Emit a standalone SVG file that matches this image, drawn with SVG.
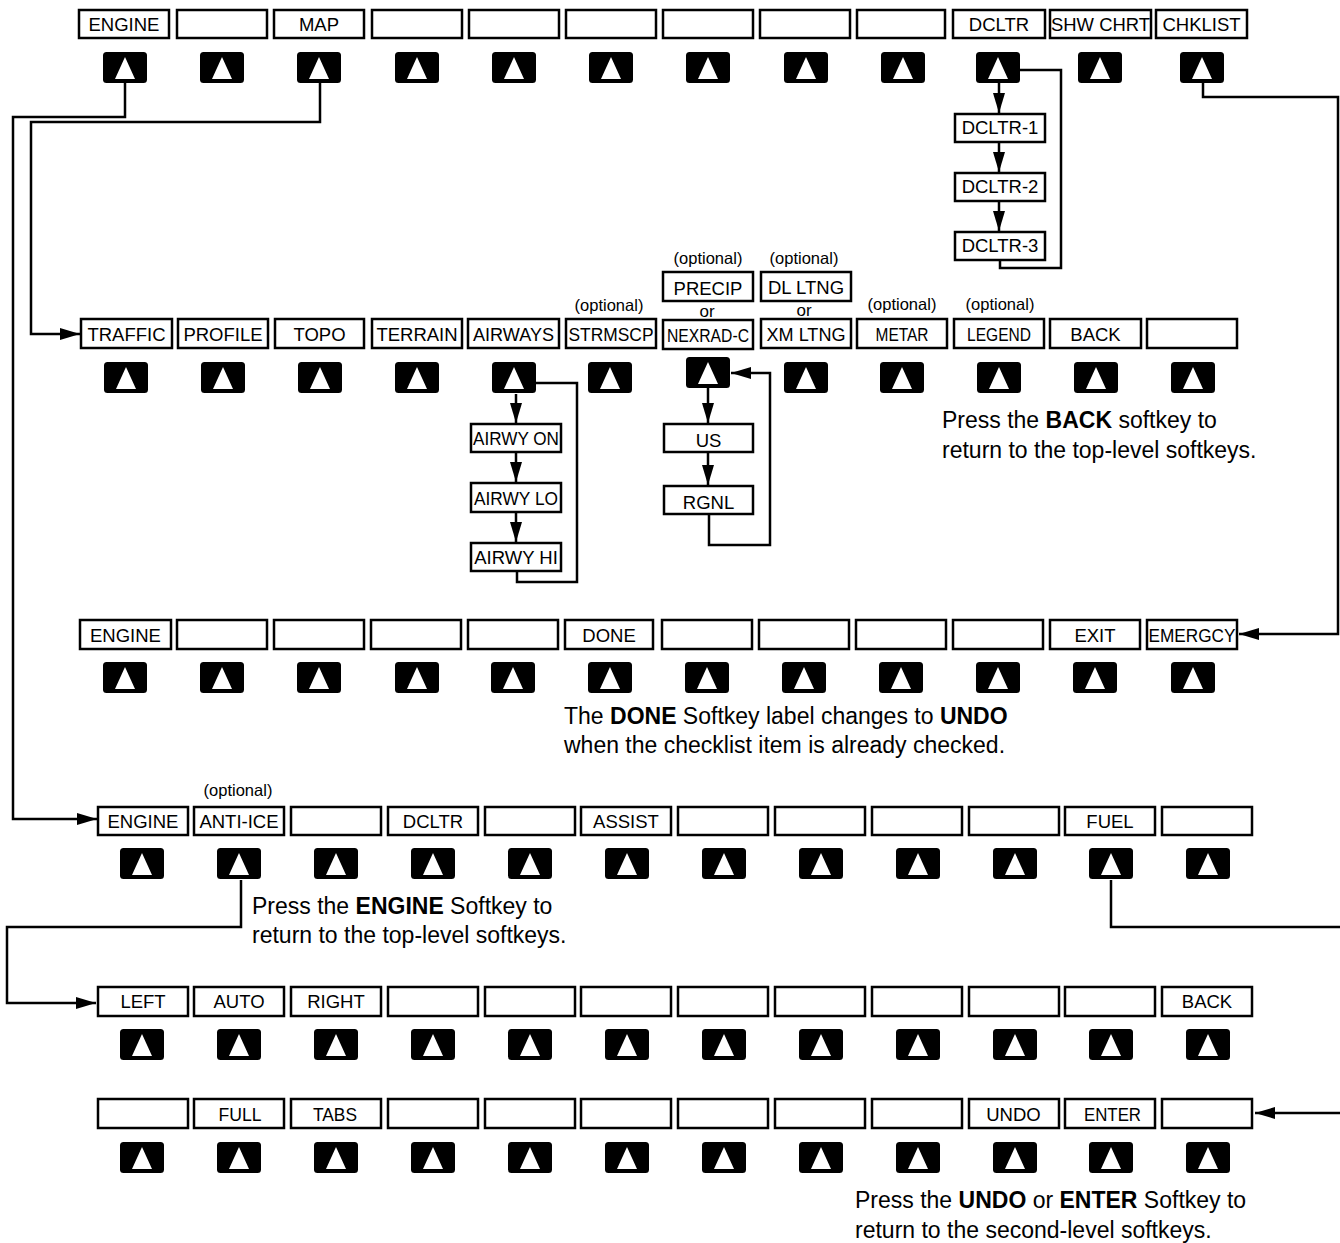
<svg xmlns="http://www.w3.org/2000/svg" xmlns:xlink="http://www.w3.org/1999/xlink" width="1340" height="1243" viewBox="0 0 1340 1243">
<style>
.box{fill:#fff;stroke:#000;stroke-width:2.5}
.lbl{font-family:"Liberation Sans",Arial,Helvetica,sans-serif;font-size:18.5px;text-anchor:middle;fill:#000}
.opt{font-family:"Liberation Sans",Arial,Helvetica,sans-serif;font-size:16.5px;text-anchor:middle;fill:#000}
.or{font-family:"Liberation Sans",Arial,Helvetica,sans-serif;font-size:17px;text-anchor:middle;fill:#000}
.note{font-family:"Liberation Sans",Arial,Helvetica,sans-serif;font-size:23px;fill:#000}
.note tspan.b{font-weight:bold}
.con{fill:none;stroke:#000;stroke-width:2.5}
.arr{fill:none;stroke:#000;stroke-width:2.5;marker-end:url(#ah)}
</style>
<defs>
<marker id="ah" markerUnits="userSpaceOnUse" viewBox="0 0 20 12" markerWidth="20" markerHeight="12" refX="20" refY="6" orient="auto"><path d="M0,0 L20,6 L0,12 z" fill="#000"/></marker>
<g id="btn"><rect x="-22" y="0" width="44" height="31" rx="3.5" fill="#000"/><polygon points="0,5 10,27 -10,27" fill="#fff"/></g>
</defs>
<rect width="1340" height="1243" fill="#fff"/>

<!-- Row 1 -->
<g id="r1-1"><rect class="box" x="79" y="10" width="90" height="28"/><text class="lbl" x="124" y="31">ENGINE</text><use href="#btn" x="125" y="52"/></g>
<g id="r1-2"><rect class="box" x="177" y="10" width="90" height="28"/><use href="#btn" x="222" y="52"/></g>
<g id="r1-3"><rect class="box" x="274" y="10" width="90" height="28"/><text class="lbl" x="319" y="31">MAP</text><use href="#btn" x="319" y="52"/></g>
<g id="r1-4"><rect class="box" x="372" y="10" width="90" height="28"/><use href="#btn" x="417" y="52"/></g>
<g id="r1-5"><rect class="box" x="469" y="10" width="90" height="28"/><use href="#btn" x="514" y="52"/></g>
<g id="r1-6"><rect class="box" x="566" y="10" width="90" height="28"/><use href="#btn" x="611" y="52"/></g>
<g id="r1-7"><rect class="box" x="663" y="10" width="90" height="28"/><use href="#btn" x="708" y="52"/></g>
<g id="r1-8"><rect class="box" x="760" y="10" width="90" height="28"/><use href="#btn" x="806" y="52"/></g>
<g id="r1-9"><rect class="box" x="857" y="10" width="88" height="28"/><use href="#btn" x="903" y="52"/></g>
<g id="r1-10"><rect class="box" x="953" y="10" width="92" height="28"/><text class="lbl" x="999" y="31">DCLTR</text><use href="#btn" x="998" y="52"/></g>
<g id="r1-11"><rect class="box" x="1050" y="10" width="101" height="28"/><text class="lbl" x="1100.5" y="31" textLength="99" lengthAdjust="spacingAndGlyphs">SHW CHRT</text><use href="#btn" x="1100" y="52"/></g>
<g id="r1-12"><rect class="box" x="1156" y="10" width="91" height="28"/><text class="lbl" x="1201.5" y="31">CHKLIST</text><use href="#btn" x="1202" y="52"/></g>

<!-- DCLTR sub-keys -->
<g id="dcltr-1"><rect class="box" x="955" y="114" width="90" height="28"/><text class="lbl" x="1000" y="134">DCLTR-1</text></g>
<g id="dcltr-2"><rect class="box" x="955" y="173" width="90" height="28"/><text class="lbl" x="1000" y="193">DCLTR-2</text></g>
<g id="dcltr-3"><rect class="box" x="955" y="232" width="90" height="28"/><text class="lbl" x="1000" y="252">DCLTR-3</text></g>

<!-- Row 2 -->
<g id="r2-1"><rect class="box" x="81" y="319" width="91" height="29"/><text class="lbl" x="126.5" y="341">TRAFFIC</text><use href="#btn" x="126" y="362"/></g>
<g id="r2-2"><rect class="box" x="178" y="319" width="90" height="29"/><text class="lbl" x="223" y="341">PROFILE</text><use href="#btn" x="223" y="362"/></g>
<g id="r2-3"><rect class="box" x="275" y="319" width="89" height="29"/><text class="lbl" x="319.5" y="341">TOPO</text><use href="#btn" x="320" y="362"/></g>
<g id="r2-4"><rect class="box" x="372" y="319" width="90" height="29"/><text class="lbl" x="417" y="341">TERRAIN</text><use href="#btn" x="417" y="362"/></g>
<g id="r2-5"><rect class="box" x="468" y="319" width="91" height="29"/><text class="lbl" x="513.5" y="341" textLength="81" lengthAdjust="spacingAndGlyphs">AIRWAYS</text><use href="#btn" x="514" y="362"/></g>
<g id="r2-6"><text class="opt" x="609" y="311">(optional)</text><rect class="box" x="566" y="319" width="90" height="29"/><text class="lbl" x="611" y="341" textLength="85" lengthAdjust="spacingAndGlyphs">STRMSCP</text><use href="#btn" x="610" y="362"/></g>
<g id="r2-7"><text class="opt" x="708" y="264">(optional)</text><rect class="box" x="663" y="272" width="90" height="29"/><text class="lbl" x="708" y="295">PRECIP</text><text class="or" x="707" y="317">or</text><rect class="box" x="663" y="320" width="90" height="29"/><text class="lbl" x="708" y="342" textLength="82" lengthAdjust="spacingAndGlyphs">NEXRAD-C</text><use href="#btn" x="708" y="357"/></g>
<g id="r2-8"><text class="opt" x="804" y="264">(optional)</text><rect class="box" x="761" y="272" width="90" height="29"/><text class="lbl" x="806" y="294">DL LTNG</text><text class="or" x="804" y="316">or</text><rect class="box" x="761" y="319" width="90" height="29"/><text class="lbl" x="806" y="341" textLength="79" lengthAdjust="spacingAndGlyphs">XM LTNG</text><use href="#btn" x="806" y="362"/></g>
<g id="r2-9"><text class="opt" x="902" y="310">(optional)</text><rect class="box" x="857" y="319" width="90" height="29"/><text class="lbl" x="902" y="341" textLength="53" lengthAdjust="spacingAndGlyphs">METAR</text><use href="#btn" x="902" y="362"/></g>
<g id="r2-10"><text class="opt" x="1000" y="310">(optional)</text><rect class="box" x="954" y="319" width="90" height="29"/><text class="lbl" x="999" y="341" textLength="64" lengthAdjust="spacingAndGlyphs">LEGEND</text><use href="#btn" x="999" y="362"/></g>
<g id="r2-11"><rect class="box" x="1050" y="319" width="91" height="29"/><text class="lbl" x="1095.5" y="341">BACK</text><use href="#btn" x="1096" y="362"/></g>
<g id="r2-12"><rect class="box" x="1147" y="319" width="90" height="29"/><use href="#btn" x="1193" y="362"/></g>

<!-- AIRWAYS sub-keys -->
<g id="airwy-on"><rect class="box" x="471" y="424" width="90" height="28"/><text class="lbl" x="516" y="445" textLength="86" lengthAdjust="spacingAndGlyphs">AIRWY ON</text></g>
<g id="airwy-lo"><rect class="box" x="471" y="483" width="90" height="29"/><text class="lbl" x="516" y="505" textLength="84" lengthAdjust="spacingAndGlyphs">AIRWY LO</text></g>
<g id="airwy-hi"><rect class="box" x="471" y="543" width="90" height="28"/><text class="lbl" x="516" y="564">AIRWY HI</text></g>

<!-- NEXRAD sub-keys -->
<g id="us"><rect class="box" x="664" y="424" width="89" height="28"/><text class="lbl" x="708.5" y="447">US</text></g>
<g id="rgnl"><rect class="box" x="664" y="486" width="89" height="28"/><text class="lbl" x="708.5" y="509">RGNL</text></g>

<g id="note-back"><text class="note" x="942" y="428">Press the <tspan class="b">BACK</tspan> softkey to</text><text class="note" x="942" y="458">return to the top-level softkeys.</text></g>

<!-- Row 3 -->
<g id="r3-1"><rect class="box" x="80" y="620" width="91" height="29"/><text class="lbl" x="125.5" y="642">ENGINE</text><use href="#btn" x="125" y="662"/></g>
<g id="r3-2"><rect class="box" x="177" y="620" width="90" height="29"/><use href="#btn" x="222" y="662"/></g>
<g id="r3-3"><rect class="box" x="274" y="620" width="90" height="29"/><use href="#btn" x="319" y="662"/></g>
<g id="r3-4"><rect class="box" x="371" y="620" width="90" height="29"/><use href="#btn" x="417" y="662"/></g>
<g id="r3-5"><rect class="box" x="468" y="620" width="90" height="29"/><use href="#btn" x="513" y="662"/></g>
<g id="r3-6"><rect class="box" x="565" y="620" width="88" height="29"/><text class="lbl" x="609" y="642">DONE</text><use href="#btn" x="610" y="662"/></g>
<g id="r3-7"><rect class="box" x="662" y="620" width="90" height="29"/><use href="#btn" x="707" y="662"/></g>
<g id="r3-8"><rect class="box" x="759" y="620" width="90" height="29"/><use href="#btn" x="804" y="662"/></g>
<g id="r3-9"><rect class="box" x="856" y="620" width="90" height="29"/><use href="#btn" x="901" y="662"/></g>
<g id="r3-10"><rect class="box" x="953" y="620" width="90" height="29"/><use href="#btn" x="998" y="662"/></g>
<g id="r3-11"><rect class="box" x="1050" y="620" width="90" height="29"/><text class="lbl" x="1095" y="642">EXIT</text><use href="#btn" x="1095" y="662"/></g>
<g id="r3-12"><rect class="box" x="1147" y="620" width="90" height="29"/><text class="lbl" x="1192" y="642" textLength="87" lengthAdjust="spacingAndGlyphs">EMERGCY</text><use href="#btn" x="1193" y="662"/></g>

<g id="note-done"><text class="note" x="564" y="724">The <tspan class="b">DONE</tspan> Softkey label changes to <tspan class="b">UNDO</tspan></text><text class="note" x="564" y="753">when the checklist item is already checked.</text></g>

<!-- Row 4 -->
<g id="r4-1"><rect class="box" x="98" y="807" width="90" height="28"/><text class="lbl" x="143" y="828">ENGINE</text><use href="#btn" x="142" y="848"/></g>
<g id="r4-2"><text class="opt" x="238" y="796">(optional)</text><rect class="box" x="194" y="807" width="90" height="28"/><text class="lbl" x="239" y="828">ANTI-ICE</text><use href="#btn" x="239" y="848"/></g>
<g id="r4-3"><rect class="box" x="291" y="807" width="90" height="28"/><use href="#btn" x="336" y="848"/></g>
<g id="r4-4"><rect class="box" x="388" y="807" width="90" height="28"/><text class="lbl" x="433" y="828">DCLTR</text><use href="#btn" x="433" y="848"/></g>
<g id="r4-5"><rect class="box" x="485" y="807" width="90" height="28"/><use href="#btn" x="530" y="848"/></g>
<g id="r4-6"><rect class="box" x="581" y="807" width="90" height="28"/><text class="lbl" x="626" y="828">ASSIST</text><use href="#btn" x="627" y="848"/></g>
<g id="r4-7"><rect class="box" x="678" y="807" width="90" height="28"/><use href="#btn" x="724" y="848"/></g>
<g id="r4-8"><rect class="box" x="775" y="807" width="90" height="28"/><use href="#btn" x="821" y="848"/></g>
<g id="r4-9"><rect class="box" x="872" y="807" width="90" height="28"/><use href="#btn" x="918" y="848"/></g>
<g id="r4-10"><rect class="box" x="969" y="807" width="90" height="28"/><use href="#btn" x="1015" y="848"/></g>
<g id="r4-11"><rect class="box" x="1065" y="807" width="90" height="28"/><text class="lbl" x="1110" y="828">FUEL</text><use href="#btn" x="1111" y="848"/></g>
<g id="r4-12"><rect class="box" x="1162" y="807" width="90" height="28"/><use href="#btn" x="1208" y="848"/></g>

<g id="note-engine"><text class="note" x="252" y="914">Press the <tspan class="b">ENGINE</tspan> Softkey to</text><text class="note" x="252" y="943">return to the top-level softkeys.</text></g>

<!-- Row 5 -->
<g id="r5-1"><rect class="box" x="98" y="987" width="90" height="29"/><text class="lbl" x="143" y="1008">LEFT</text><use href="#btn" x="142" y="1029"/></g>
<g id="r5-2"><rect class="box" x="194" y="987" width="90" height="29"/><text class="lbl" x="239" y="1008">AUTO</text><use href="#btn" x="239" y="1029"/></g>
<g id="r5-3"><rect class="box" x="291" y="987" width="90" height="29"/><text class="lbl" x="336" y="1008">RIGHT</text><use href="#btn" x="336" y="1029"/></g>
<g id="r5-4"><rect class="box" x="388" y="987" width="90" height="29"/><use href="#btn" x="433" y="1029"/></g>
<g id="r5-5"><rect class="box" x="485" y="987" width="90" height="29"/><use href="#btn" x="530" y="1029"/></g>
<g id="r5-6"><rect class="box" x="581" y="987" width="90" height="29"/><use href="#btn" x="627" y="1029"/></g>
<g id="r5-7"><rect class="box" x="678" y="987" width="90" height="29"/><use href="#btn" x="724" y="1029"/></g>
<g id="r5-8"><rect class="box" x="775" y="987" width="90" height="29"/><use href="#btn" x="821" y="1029"/></g>
<g id="r5-9"><rect class="box" x="872" y="987" width="90" height="29"/><use href="#btn" x="918" y="1029"/></g>
<g id="r5-10"><rect class="box" x="969" y="987" width="90" height="29"/><use href="#btn" x="1015" y="1029"/></g>
<g id="r5-11"><rect class="box" x="1065" y="987" width="90" height="29"/><use href="#btn" x="1111" y="1029"/></g>
<g id="r5-12"><rect class="box" x="1162" y="987" width="90" height="29"/><text class="lbl" x="1207" y="1008">BACK</text><use href="#btn" x="1208" y="1029"/></g>

<!-- Row 6 -->
<g id="r6-1"><rect class="box" x="98" y="1099" width="90" height="29"/><use href="#btn" x="142" y="1142"/></g>
<g id="r6-2"><rect class="box" x="194" y="1099" width="90" height="29"/><text class="lbl" x="240" y="1121" textLength="43" lengthAdjust="spacingAndGlyphs">FULL</text><use href="#btn" x="239" y="1142"/></g>
<g id="r6-3"><rect class="box" x="291" y="1099" width="90" height="29"/><text class="lbl" x="335" y="1121" textLength="44" lengthAdjust="spacingAndGlyphs">TABS</text><use href="#btn" x="336" y="1142"/></g>
<g id="r6-4"><rect class="box" x="388" y="1099" width="90" height="29"/><use href="#btn" x="433" y="1142"/></g>
<g id="r6-5"><rect class="box" x="485" y="1099" width="90" height="29"/><use href="#btn" x="530" y="1142"/></g>
<g id="r6-6"><rect class="box" x="581" y="1099" width="90" height="29"/><use href="#btn" x="627" y="1142"/></g>
<g id="r6-7"><rect class="box" x="678" y="1099" width="90" height="29"/><use href="#btn" x="724" y="1142"/></g>
<g id="r6-8"><rect class="box" x="775" y="1099" width="90" height="29"/><use href="#btn" x="821" y="1142"/></g>
<g id="r6-9"><rect class="box" x="872" y="1099" width="90" height="29"/><use href="#btn" x="918" y="1142"/></g>
<g id="r6-10"><rect class="box" x="969" y="1099" width="90" height="29"/><text class="lbl" x="1013.5" y="1121">UNDO</text><use href="#btn" x="1015" y="1142"/></g>
<g id="r6-11"><rect class="box" x="1065" y="1099" width="90" height="29"/><text class="lbl" x="1112.5" y="1121" textLength="57" lengthAdjust="spacingAndGlyphs">ENTER</text><use href="#btn" x="1111" y="1142"/></g>
<g id="r6-12"><rect class="box" x="1162" y="1099" width="90" height="29"/><use href="#btn" x="1208" y="1142"/></g>

<g id="note-undo"><text class="note" x="855" y="1208">Press the <tspan class="b">UNDO</tspan> or <tspan class="b">ENTER</tspan> Softkey to</text><text class="note" x="855" y="1238">return to the second-level softkeys.</text></g>

<!-- Connectors -->
<g id="connectors">
<path class="arr" d="M125,83 V117 H13 V819 H97"/>
<path class="arr" d="M320,83 V122 H31 V334 H80"/>
<path class="arr" d="M999,83 V113"/>
<path class="arr" d="M999,143 V172"/>
<path class="arr" d="M999,202 V231"/>
<path class="con" d="M1000,261 V268 H1061 V70 H1020"/>
<path class="arr" d="M1203,83 V97 H1338 V634 H1239"/>
<path class="arr" d="M516,394 V423"/>
<path class="arr" d="M516,453 V482"/>
<path class="arr" d="M516,513 V542"/>
<path class="con" d="M517,572 V582 H577 V383 H536"/>
<path class="arr" d="M708,388 V423"/>
<path class="arr" d="M708,453 V485"/>
<path class="arr" d="M709,515 V545 H770 V373 H731"/>
<path class="arr" d="M241,880 V927 H7 V1003 H96"/>
<path class="con" d="M1111,880 V927 H1342"/>
<path class="arr" d="M1342,1113 H1255"/>
</g>
</svg>
